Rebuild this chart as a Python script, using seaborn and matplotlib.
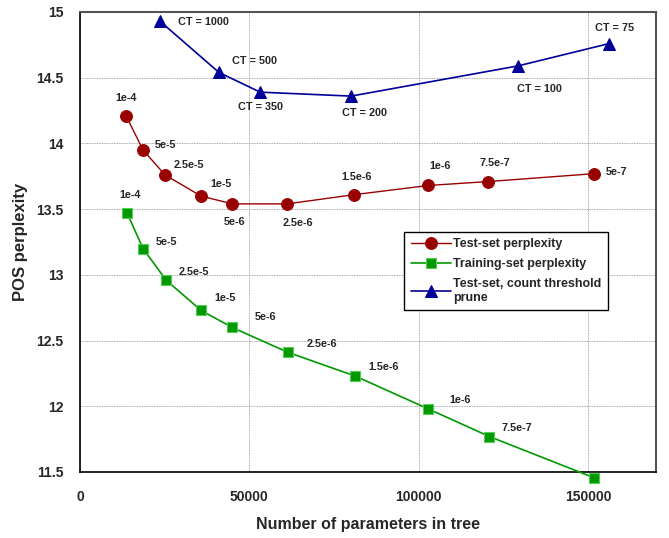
import pandas as pd
import matplotlib
matplotlib.use("Agg")
import matplotlib.pyplot as plt
import seaborn as sns

# test-set perplexity vs. tree size (relative entropy pruning thresholds)
test_params = [13600, 18600, 25100, 35700, 44900, 61100, 80900, 102800, 120500, 151800]
test_ppl = [14.21, 13.95, 13.76, 13.60, 13.54, 13.54, 13.61, 13.68, 13.71, 13.77]
test_labels = ["1e-4", "5e-5", "2.5e-5", "1e-5", "5e-6", "2.5e-6", "1.5e-6", "1e-6", "7.5e-7", "5e-7"]

# training-set perplexity
train_params = [13900, 18600, 25400, 35700, 44900, 61400, 81200, 102800, 120800, 151800]
train_ppl = [13.47, 13.20, 12.96, 12.73, 12.60, 12.41, 12.23, 11.98, 11.77, 11.455]
train_labels = ["1e-4", "5e-5", "2.5e-5", "1e-5", "5e-6", "2.5e-6", "1.5e-6", "1e-6", "7.5e-7", "5e-7"]

# test-set, count threshold pruning
ct_params = [23600, 41000, 53200, 80000, 129300, 156200]
ct_ppl = [14.93, 14.54, 14.39, 14.36, 14.59, 14.76]
ct_labels = ["CT = 1000", "CT = 500", "CT = 350", "CT = 200", "CT = 100", "CT = 75"]

sns.set_style("white")
plt.rcParams["font.family"] = ["Liberation Sans", "DejaVu Sans"]
plt.rcParams["font.weight"] = "bold"

fig = plt.figure(figsize=(6.69, 5.38), dpi=100)
ax = fig.add_axes([0.1196, 0.1227, 0.861, 0.855])

test_df = pd.DataFrame({"params": test_params, "ppl": test_ppl})
train_df = pd.DataFrame({"params": train_params, "ppl": train_ppl})
ct_df = pd.DataFrame({"params": ct_params, "ppl": ct_ppl})

sns.lineplot(data=test_df, x="params", y="ppl", ax=ax, color="#990000", linewidth=1,
             marker="o", markersize=8.5, markeredgecolor="#990000",
             label="Test-set perplexity", clip_on=False, zorder=3)
sns.lineplot(data=train_df, x="params", y="ppl", ax=ax, color="#009900", linewidth=1.2,
             marker="s", markersize=7.5, markeredgecolor="#55cc55", markeredgewidth=0.8,
             label="Training-set perplexity", clip_on=False, zorder=3)
sns.lineplot(data=ct_df, x="params", y="ppl", ax=ax, color="#000099", linewidth=1.2,
             marker="^", markersize=9, markeredgecolor="#000099",
             label="Test-set, count threshold\nprune", clip_on=False, zorder=3)

# label offsets in pixels
test_off = [(0, 18), (22, 5), (24, 10), (20, 12), (2, -18), (11, -19), (3, 18), (12, 19), (7, 19), (22, 2)]
train_off = [(3, 18), (23, 7), (28, 8), (24, 12), (33, 10), (34, 8), (28, 9), (32, 9), (28, 9), (18, 23)]
ct_off = [(43, -1), (36, 11), (0, -15), (13, -17), (21, -23), (5, 16)]

for xs, ys, labs, offs in [(test_params, test_ppl, test_labels, test_off),
                           (train_params, train_ppl, train_labels, train_off),
                           (ct_params, ct_ppl, ct_labels, ct_off)]:
    for x, y, lab, off in zip(xs, ys, labs, offs):
        ax.annotate(lab, (x, y), xytext=off, textcoords="offset pixels",
                    ha="center", va="center", fontsize=7.8, fontweight="bold")

ax.set_xlim(0, 170000)
ax.set_ylim(11.5, 15)
ax.set_xticks([0, 50000, 100000, 150000])
ax.set_yticks([11.5, 12, 12.5, 13, 13.5, 14, 14.5, 15])
ax.set_yticklabels(["11.5", "12", "12.5", "13", "13.5", "14", "14.5", "15"])
ax.grid(True, color="#8a8a8a", linestyle=(0, (1, 1)), linewidth=0.6)
ax.tick_params(axis="x", direction="in", length=9, width=1, labelsize=10, pad=13)
ax.tick_params(axis="y", direction="out", length=7, width=1, labelsize=10, pad=5)
for t in ax.get_xticklabels() + ax.get_yticklabels():
    t.set_fontweight("bold")

ax.set_xlabel("Number of parameters in tree", fontsize=11.5, fontweight="bold", labelpad=9)
ax.set_ylabel("POS perplexity", fontsize=12, fontweight="bold", labelpad=6)

for side in ["left", "bottom"]:
    ax.spines[side].set_color("black")
    ax.spines[side].set_linewidth(1.2)
for side in ["top", "right"]:
    ax.spines[side].set_color("#555555")
    ax.spines[side].set_linewidth(1.5)

leg = ax.legend(loc="upper left", bbox_to_anchor=(0.563, 0.522), fontsize=9,
                frameon=True, fancybox=False, borderpad=0.5, handlelength=3.2,
                labelspacing=0.65, handletextpad=0.2, borderaxespad=0)
leg.get_frame().set_edgecolor("black")
leg.get_frame().set_linewidth(1)
leg.get_frame().set_alpha(1)
for t in leg.get_texts():
    t.set_fontweight("bold")

fig.savefig("out.png", dpi=100)
